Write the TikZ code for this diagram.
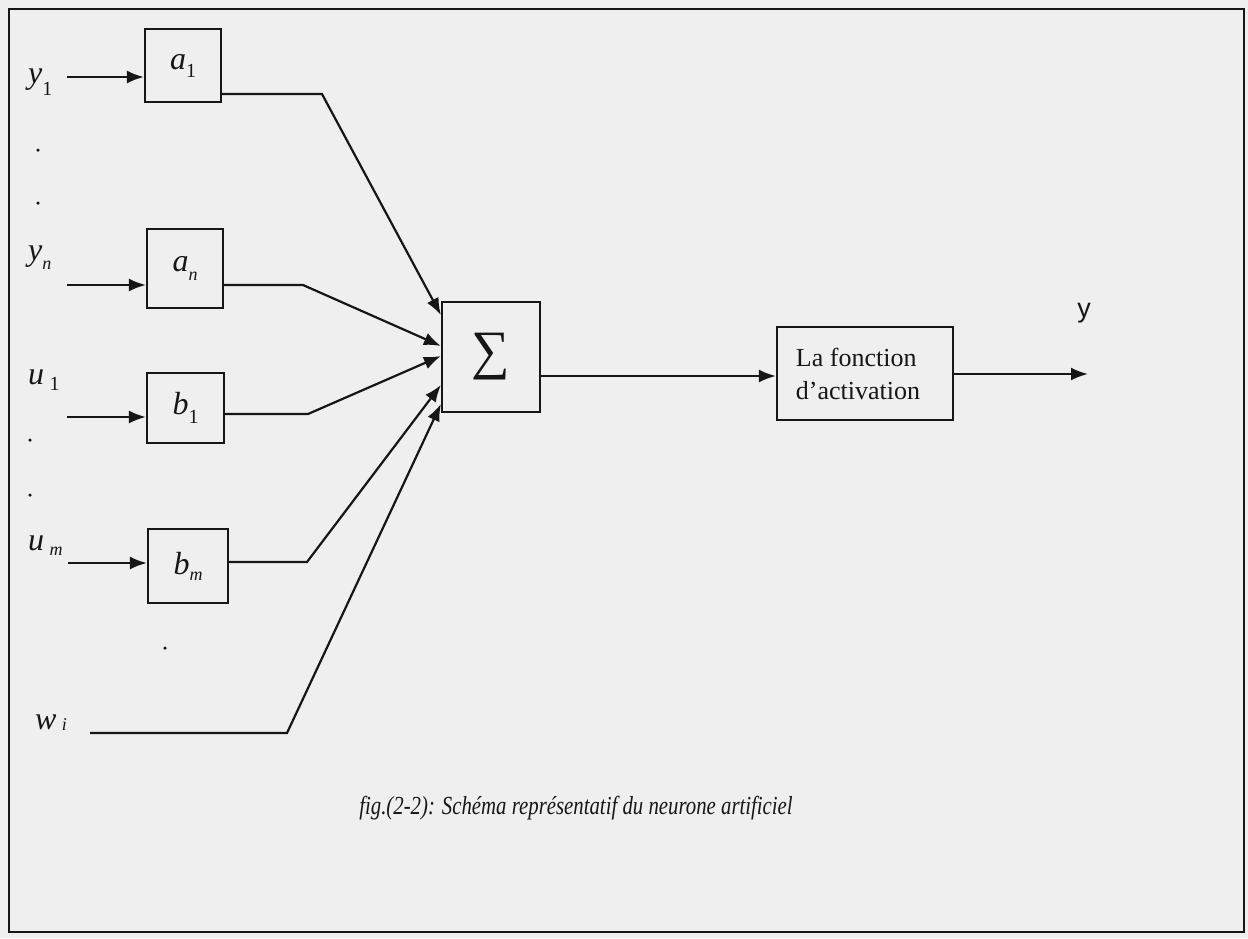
\documentclass[tikz,border=0pt]{standalone}
\usepackage{fontspec}
\setmainfont{Liberation Serif}
\newfontfamily\capfont[FakeStretch=0.8]{Liberation Serif}
\newfontfamily\yfont{Liberation Sans}
\usetikzlibrary{arrows.meta}
\definecolor{paper}{RGB}{239,239,239}
\definecolor{ink}{RGB}{22,22,22}
% symbol with lowered index: \symb{drop}{letter}{index}
\newcommand\symb[3]{{\itshape #2}\raisebox{-#1}{#3}}
\newcommand\idx[1]{\fontsize{20}{20}\selectfont #1}
\newcommand\idi[1]{\fontsize{18}{18}\selectfont\itshape #1}

\begin{document}
\begin{tikzpicture}[x=1pt,y=-1pt,
  every node/.style={text=ink},
  blk/.style={draw=ink,line width=2.2pt,inner sep=0pt,
    font=\fontsize{32}{32}\selectfont},
  wire/.style={draw=ink,line width=2.2pt},
  arr/.style={wire,-{Latex[length=17pt,width=13pt]}},
  lbl/.style={inner sep=0pt,anchor=base west,font=\fontsize{32}{32}\selectfont},
  dotc/.style={circle,fill=ink,inner sep=0pt,minimum size=3.5pt}
]
% paper and frame
\fill[paper] (0,0) rectangle (1248,938);
\useasboundingbox (0,0) rectangle (1248,938);
\draw[ink,line width=2.5pt] (9,9) rectangle (1244,932);

% weight blocks
\node[blk,minimum width=76pt,minimum height=73pt] (a1) at (183,65.5) {\symb{8pt}{a}{\idx{1}}};
\node[blk,minimum width=76pt,minimum height=79pt] (an) at (185,268.5) {\symb{9pt}{a}{\idi{n}}};
\node[blk,minimum width=77pt,minimum height=70pt] (b1) at (185.5,408) {\symb{9pt}{b}{\idx{1}}};
\node[blk,minimum width=80pt,minimum height=74pt] (bm) at (188,566) {\symb{6pt}{b}{\idi{m}}};

% summation and activation blocks
\node[blk,minimum width=98pt,minimum height=110pt,font=\fontsize{54}{54}\selectfont] (sum) at (491,357) {∑};
\node[blk,minimum width=176pt,minimum height=93pt,align=left,
  font=\fontsize{26}{33}\selectfont] (act) at (865,373.5) {La fonction\hspace*{14pt}\\d’activation\hspace*{14pt}};

% input labels
\node[lbl] (ly1) at (28,83) {\symb{12pt}{y}{\idx{1}}};
\node[lbl] (lyn) at (28,260) {\symb{9pt}{y}{\idi{n}}};
\node[lbl] (lu1) at (28,384) {\symb{6pt}{u}{\,\idx{1}}};
\node[lbl] (lum) at (28,550) {\symb{5pt}{u}{\,\idi{m}}};
\node[lbl] (lwi) at (35,729) {\symb{1pt}{w}{\,\idi{i}}};

% ellipsis dots
\node[dotc] (d1) at (38,150) {};
\node[dotc] (d2) at (38,203) {};
\node[dotc] (d3) at (30,440) {};
\node[dotc] (d4) at (30,495) {};
\node[dotc] (d5) at (165,648) {};

% input arrows
\coordinate (iy1) at (67,77);
\coordinate (iyn) at (67,285);
\coordinate (iu1) at (67,417);
\coordinate (ium) at (68,563);
\draw[arr] (iy1) -- (iy1 -| a1.west);
\draw[arr] (iyn) -- (iyn -| an.west);
\draw[arr] (iu1) -- (iu1 -| b1.west);
\draw[arr] (ium) -- (ium -| bm.west);

% weighted signals into the sum
\coordinate (ka1) at (322,94);
\coordinate (kan) at (303,285);
\coordinate (kb1) at (308,414);
\coordinate (kbm) at (307,562);
\coordinate (iwi) at (90,733);
\coordinate (kwi) at (287,733);
\draw[arr] (a1.east |- ka1) -- (ka1) -- (sum.west |- 0,315);
\draw[arr] (an.east |- kan) -- (kan) -- (sum.west |- 0,346);
\draw[arr] (b1.east |- kb1) -- (kb1) -- (sum.west |- 0,356);
\draw[arr] (bm.east |- kbm) -- (kbm) -- (sum.west |- 0,385);
\draw[arr] (iwi) -- (kwi) -- (sum.west |- 0,404);

% output path
\coordinate (yout) at (1088,374);
\draw[arr] (sum.east |- 0,376) -- (act.west |- 0,376);
\draw[arr] (act.east |- yout) -- (yout);
\node[inner sep=0pt,font=\yfont\fontsize{27}{27}\selectfont] (ylab) at (1084,313) {y};

% caption
\node[inner sep=0pt,font=\capfont\itshape\fontsize{26}{26}\selectfont] (cap) at (576,808)
  {fig.(2-2): Schéma représentatif du neurone artificiel};
\end{tikzpicture}
\end{document}
